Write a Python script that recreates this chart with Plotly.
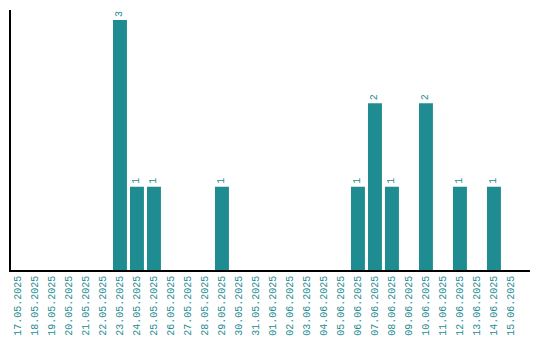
import plotly.graph_objects as go

dates = ["17.05.2025", "18.05.2025", "19.05.2025", "20.05.2025", "21.05.2025",
         "22.05.2025", "23.05.2025", "24.05.2025", "25.05.2025", "26.05.2025",
         "27.05.2025", "28.05.2025", "29.05.2025", "30.05.2025", "31.05.2025",
         "01.06.2025", "02.06.2025", "03.06.2025", "04.06.2025", "05.06.2025",
         "06.06.2025", "07.06.2025", "08.06.2025", "09.06.2025", "10.06.2025",
         "11.06.2025", "12.06.2025", "13.06.2025", "14.06.2025", "15.06.2025"]
counts = [0, 0, 0, 0, 0, 0, 3, 1, 1, 0, 0, 0, 1, 0, 0,
          0, 0, 0, 0, 0, 1, 2, 1, 0, 2, 0, 1, 0, 1, 0]

teal = "#1e8c91"
font_family = "Liberation Mono, Courier New, monospace"

labels = [str(v) if v > 0 else "" for v in counts]

fig = go.Figure(go.Bar(
    x=dates, y=counts, marker_color=teal, marker_line_width=0,
    text=labels, textposition="outside", textangle=-90,
    textfont=dict(family=font_family, size=10, color=teal),
    cliponaxis=False,
))

fig.update_layout(
    width=532, height=332,
    margin=dict(l=3, r=10, t=2, b=70),
    paper_bgcolor="white", plot_bgcolor="white",
    bargap=0.18, showlegend=False,
)
fig.update_xaxes(
    type="category", range=[-0.41, 30.12], tickangle=-90,
    tickfont=dict(family=font_family, size=10, color=teal),
    showline=True, linecolor="black", linewidth=1.5,
    showgrid=False, ticks="", ticklen=0, automargin=False,
)
fig.update_yaxes(
    range=[0, 3.12], showticklabels=False, showgrid=False, zeroline=False,
    showline=True, linecolor="black", linewidth=1.5, ticks="", automargin=False,
)

fig.write_html("out.html")
